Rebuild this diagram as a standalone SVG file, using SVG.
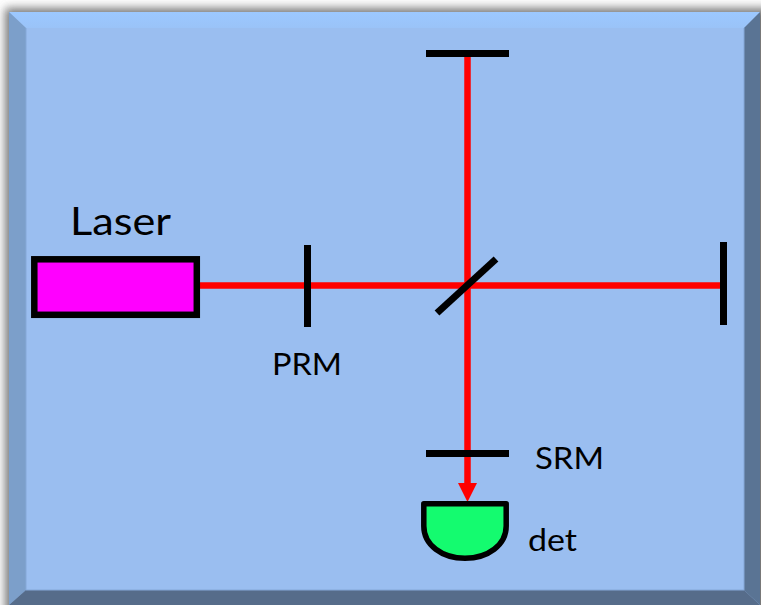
<svg xmlns="http://www.w3.org/2000/svg" width="761" height="605" viewBox="0 0 761 605">
<style>
.lbl{font-family:"Lato","Liberation Sans",sans-serif;fill:#000}
.m{stroke:#000;stroke-width:7;fill:none}
.b{stroke:#f00;stroke-width:6.500;fill:none}
</style>
<defs>
<filter id="sh" x="-5%" y="-5%" width="110%" height="110%"><feGaussianBlur stdDeviation="5"/></filter>
<linearGradient id="top" x1="0" y1="0" x2="0" y2="1"><stop offset="0" stop-color="#9cc8ff"/><stop offset="1" stop-color="#9ac3f8"/></linearGradient>
<marker id="ah" markerUnits="userSpaceOnUse" markerWidth="20" markerHeight="20" refX="19" refY="10" orient="auto"><path d="M0,0.500L19,10L0,19.500z" fill="#f00"/></marker>
</defs>
<rect width="761" height="605" fill="#fff"/>
<g id="panel">
<rect x="5" y="8" width="770" height="610" fill="#555" fill-opacity="0.8" filter="url(#sh)"/>
<rect x="9" y="12" width="751" height="593" fill="#9abef0"/>
<polygon points="9,12 760,12 744,28 26,28" fill="url(#top)"/>
<polygon points="9,12 26,28 26,590 9,605" fill="#7c9fca"/>
<polygon points="760,12 744,28 744,590 760,605" fill="#5a7494"/>
<polygon points="9,605 26,590 744,590 760,605" fill="#566c8a"/>
<rect x="26" y="28" width="718" height="562" fill="#9abef0"/>
<path d="M26,28V590H744V28" fill="none" stroke="#85a8d8" stroke-width="1"/>
</g>
<g id="connectors">
<path class="b" d="M198,285.500H722"/>
<path class="b" d="M467.500,54V502" marker-end="url(#ah)" stroke-dasharray="432 100"/>
</g>
<g id="laser">
<rect x="34.300" y="259.300" width="162.500" height="55.500" fill="#f0f" stroke="#000" stroke-width="6.500"/>
<text class="lbl" x="70" y="235" font-size="39" textLength="101" lengthAdjust="spacingAndGlyphs">Laser</text>
</g>
<g id="prm"><path class="m" d="M307.500,245V327"/><text class="lbl" x="272" y="375" font-size="31" textLength="70" lengthAdjust="spacingAndGlyphs">PRM</text></g>
<g id="bs"><path class="m" d="M437,313L496,259"/></g>
<g id="end-mirror-top"><path class="m" d="M426,53.500H509"/></g>
<g id="end-mirror-right"><path class="m" d="M723.500,242V325"/></g>
<g id="srm"><path class="m" d="M426,453.500H509"/><text class="lbl" x="535" y="469" font-size="31" textLength="69" lengthAdjust="spacingAndGlyphs">SRM</text></g>
<g id="det">
<path d="M423.800,503.800H506.200V526C506.200,545 488,558.200 465,558.200C442,558.200 423.800,545 423.800,526Z" fill="#14fb6f" stroke="#000" stroke-width="5.500" stroke-linejoin="round"/>
<text class="lbl" x="528" y="551" font-size="31" textLength="49" lengthAdjust="spacingAndGlyphs">det</text>
</g>
</svg>
